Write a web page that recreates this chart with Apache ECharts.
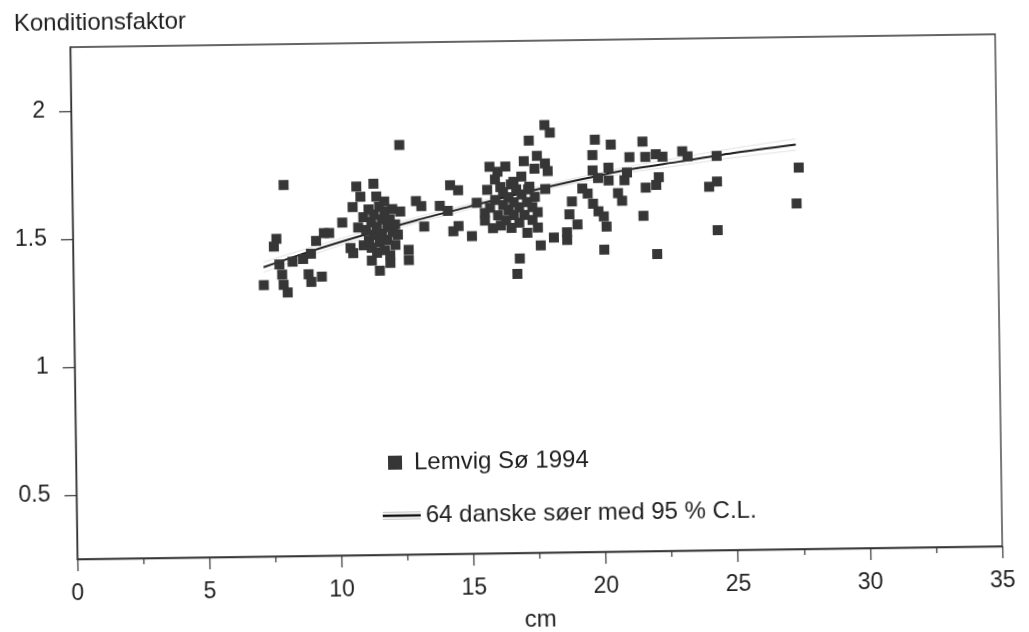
<!DOCTYPE html>
<html>
<head>
<meta charset="utf-8">
<script src="https://cdn.jsdelivr.net/npm/echarts@6/dist/echarts.min.js"></script>
<style>
  html, body { margin: 0; padding: 0; background: #ffffff; }
  #chart { width: 1029px; height: 632px; transform: rotate(-0.8deg); transform-origin: 50% 50%; }
</style>
</head>
<body>
<div id="chart"></div>
<script>
// Lemvig Sø 1994: fish length (cm) and condition factor for each fish
const lemvigLength = [
  7.2, 7.7, 7.6, 7.8, 8.0, 7.9, 7.95, 8.1, 8.3, 8.7, 9.0, 8.9, 9.0, 9.4, 9.2, 9.5, 9.7, 10.2, 10.5, 10.6,
  10.75, 11.4, 10.9, 10.6, 11.5, 11.8, 10.8, 11.6,
  11.0, 11.1, 11.2, 11.2, 11.3, 11.3, 11.4, 11.4, 11.5, 11.5, 11.6, 11.6, 11.7, 11.7, 11.8, 11.8,
  11.9, 11.9, 12.0, 12.0, 12.1, 12.1, 12.2, 12.2, 12.3, 11.0, 11.3, 12.0,
  12.4, 12.7, 12.7, 12.4, 13.0, 13.2, 13.3, 13.9, 14.2, 14.3, 14.6, 14.4, 14.6, 15.1, 15.3, 15.6,
  15.7, 15.8, 16.1, 16.0, 16.4, 16.7, 16.9, 16.8, 17.1, 17.3,
  15.6, 15.8, 15.9, 16.0, 16.1, 16.2, 16.3, 16.3, 16.4, 16.5, 16.5, 16.6, 16.7, 16.7, 16.8, 16.9,
  16.9, 17.0, 17.0, 17.1, 17.2, 17.2, 17.3, 17.4, 17.4, 17.5, 17.6, 17.6, 16.6, 16.2,
  17.9, 18.1, 17.6, 17.9, 18.0, 17.5, 17.25, 17.9, 17.7, 18.2, 18.7, 18.7, 18.9, 18.8, 19.1, 19.3,
  19.5, 19.7, 19.9, 19.8, 19.7, 19.7, 19.9, 20.1, 20.2, 20.1, 20.4, 20.3, 20.3, 20.65, 20.8, 20.9,
  21.0, 21.1, 21.6, 21.7, 22.1, 22.35, 21.7, 22.1, 22.2, 21.6, 22.1,
  23.1, 23.3, 24.4, 24.1, 24.4, 24.4, 27.5, 27.4
];
const lemvigK = [
  1.31, 1.49, 1.46, 1.39, 1.70, 1.35, 1.31, 1.28, 1.40, 1.41, 1.43, 1.35, 1.32, 1.34, 1.48, 1.51, 1.51, 1.55, 1.45, 1.43,
  1.69, 1.70, 1.65, 1.61, 1.65, 1.63, 1.53, 1.36,
  1.57, 1.52, 1.48, 1.60, 1.55, 1.45, 1.50, 1.58, 1.43, 1.53, 1.61, 1.47, 1.56, 1.50, 1.44, 1.59,
  1.53, 1.48, 1.56, 1.42, 1.51, 1.60, 1.46, 1.54, 1.50, 1.46, 1.40, 1.39,
  1.59, 1.44, 1.40, 1.85, 1.63, 1.61, 1.53, 1.61, 1.59, 1.69, 1.67, 1.51, 1.53, 1.49, 1.62, 1.58,
  1.67, 1.76, 1.74, 1.71, 1.76, 1.70, 1.40, 1.34, 1.78, 1.86,
  1.55, 1.60, 1.52, 1.63, 1.57, 1.53, 1.61, 1.66, 1.55, 1.59, 1.64, 1.52, 1.62, 1.57, 1.67, 1.54,
  1.60, 1.65, 1.72, 1.57, 1.62, 1.50, 1.68, 1.60, 1.55, 1.64, 1.52, 1.58, 1.69, 1.68,
  1.92, 1.89, 1.80, 1.77, 1.74, 1.75, 1.67, 1.67, 1.45, 1.48, 1.47, 1.50, 1.62, 1.57, 1.53, 1.67,
  1.65, 1.61, 1.58, 1.86, 1.80, 1.74, 1.71, 1.56, 1.52, 1.43, 1.84, 1.75, 1.70, 1.65, 1.62, 1.70,
  1.73, 1.79, 1.85, 1.79, 1.80, 1.79, 1.67, 1.68, 1.71, 1.56, 1.41,
  1.81, 1.79, 1.79, 1.67, 1.69, 1.50, 1.74, 1.60
];

// Reference curve for 64 Danish lakes with its 95 % confidence limits
const fitLength = [7.2, 9, 11, 13, 15, 17, 19, 21, 23, 25, 27.4];
const fitK      = [1.38, 1.44, 1.50, 1.555, 1.605, 1.655, 1.70, 1.74, 1.77, 1.80, 1.83];
const fitUpper  = [1.40, 1.455, 1.512, 1.566, 1.615, 1.665, 1.71, 1.752, 1.785, 1.818, 1.852];
const fitLower  = [1.36, 1.425, 1.488, 1.544, 1.595, 1.645, 1.69, 1.728, 1.755, 1.782, 1.808];

const yTicks = [0.5, 1, 1.5, 2];

const pairs = (xs, ys) => xs.map((x, i) => [x, ys[i]]);

const FONT = "'Liberation Sans', Arial, sans-serif";
const INK = '#1f1f1f';

// legend glyph: solid curve with thin confidence lines above and below
const FIT_ICON = 'path://M0,0H40V0.35H0Z M0,3H40V5.4H0Z M0,8.05H40V8.4H0Z';

const chart = echarts.init(document.getElementById('chart'), null, { renderer: 'canvas' });
chart.setOption({
  backgroundColor: '#ffffff',
  animation: false,
  title: {
    text: 'Konditionsfaktor',
    left: 13, top: 0,
    textStyle: { fontFamily: FONT, fontSize: 24, fontWeight: 'normal', color: INK }
  },
  legend: [
    {
      data: [{ name: 'Lemvig Sø 1994', icon: 'rect' }],
      left: 386, top: 449, padding: 0,
      itemWidth: 14, itemHeight: 14,
      textStyle: { fontFamily: FONT, fontSize: 24, color: INK, padding: [0, 0, 0, 7] }
    },
    {
      data: [{ name: '64 danske søer med 95 % C.L.', icon: FIT_ICON }],
      left: 380, top: 502, padding: 0,
      itemWidth: 38, itemHeight: 8,
      itemStyle: { color: '#111111' },
      textStyle: { fontFamily: FONT, fontSize: 24, color: INK }
    }
  ],
  grid: {
    left: 74, right: 30, top: 41, bottom: 79,
    outerBoundsMode: 'none',
    show: true, borderColor: '#333', borderWidth: 1.3, backgroundColor: 'transparent'
  },
  xAxis: {
    type: 'value', min: 0, max: 35, interval: 5,
    name: 'cm', nameLocation: 'middle', nameGap: 55,
    nameTextStyle: { fontFamily: FONT, fontSize: 24, color: INK },
    axisLine: { lineStyle: { color: '#333', width: 1.3 } },
    axisTick: { show: true, length: 12, lineStyle: { color: '#333', width: 1.2 } },
    minorTick: { show: true, splitNumber: 2, length: 6, lineStyle: { color: '#333', width: 1.2 } },
    axisLabel: { fontFamily: FONT, fontSize: 23, color: INK, margin: 23 },
    splitLine: { show: false }
  },
  yAxis: {
    type: 'value', min: 0.25, max: 2.25,
    axisLine: { show: true, lineStyle: { color: '#333', width: 1.3 } },
    axisTick: { show: true, length: 12, customValues: yTicks, lineStyle: { color: '#333', width: 1.2 } },
    axisLabel: { fontFamily: FONT, fontSize: 23, color: INK, margin: 26, customValues: yTicks },
    splitLine: { show: false }
  },
  series: [
    {
      name: '64 danske søer med 95 % C.L.',
      type: 'line', data: pairs(fitLength, fitK), smooth: 0.3,
      symbol: 'none', z: 3,
      lineStyle: { color: '#1c1c1c', width: 2 },
      itemStyle: { color: '#1c1c1c' }
    },
    {
      name: 'upper', type: 'line', data: pairs(fitLength, fitUpper), smooth: 0.3,
      symbol: 'none', z: 2, silent: true,
      lineStyle: { color: '#e2e2e2', width: 1 }
    },
    {
      name: 'lower', type: 'line', data: pairs(fitLength, fitLower), smooth: 0.3,
      symbol: 'none', z: 2, silent: true,
      lineStyle: { color: '#e2e2e2', width: 1 }
    },
    {
      name: 'Lemvig Sø 1994',
      type: 'scatter', data: pairs(lemvigLength, lemvigK),
      symbol: 'rect', symbolSize: 10, z: 4,
      itemStyle: { color: '#363636', opacity: 1 }
    }
  ]
});
</script>
</body>
</html>
